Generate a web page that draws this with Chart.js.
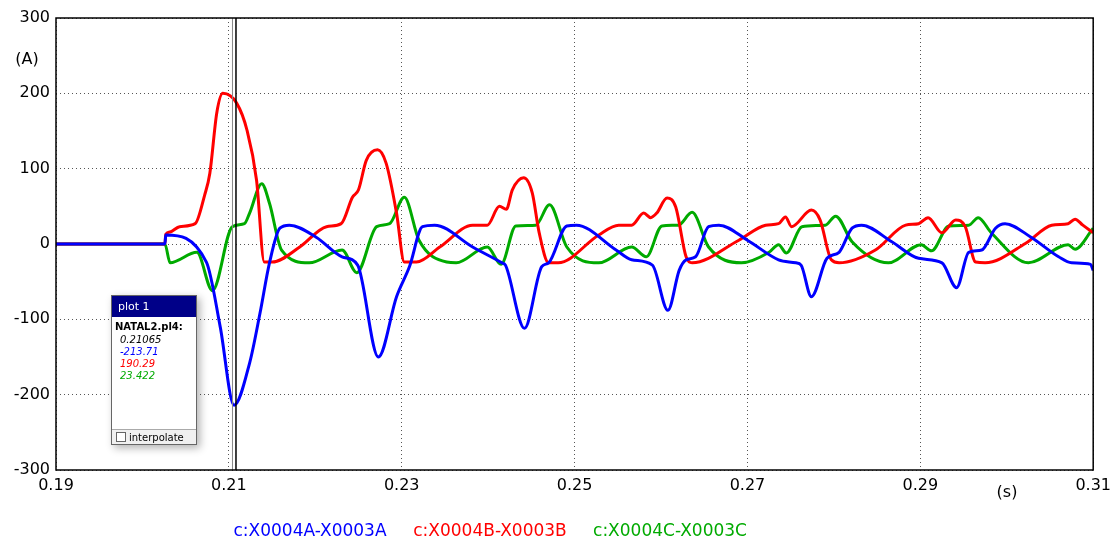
<!DOCTYPE html>
<html><head><meta charset="utf-8">
<script src="https://cdn.jsdelivr.net/npm/chart.js@4"></script>
<style>html,body{margin:0;padding:0;background:#fff}#w{width:1117px;height:544px}</style>
</head><body><div id="w"><canvas id="c"></canvas></div>
<script>
const seriesNames=["c:X0004A-X0003A","c:X0004B-X0003B","c:X0004C-X0003C"];
const xTicks=[0.19,0.21,0.23,0.25,0.27,0.29,0.31];
const yTicks=[-300,-200,-100,0,100,200,300];
const tA=[0.19,0.2026,0.2027,0.2074,0.2090,0.2106,0.2124,0.2136,0.2147,0.2159,0.2170,0.2201,0.2231,0.2249,0.2273,0.2294,0.2309,0.2324,0.2338,0.2382,0.2416,0.2420,0.2442,0.2462,0.2470,0.2491,0.2502,0.2548,0.2566,0.2590,0.2608,0.2621,0.2629,0.2640,0.2655,0.2667,0.2700,0.2736,0.2756,0.2762,0.2774,0.2792,0.2806,0.2821,0.2832,0.2867,0.2898,0.2925,0.2942,0.2956,0.2971,0.2987,0.2998,0.3028,0.3060,0.3075,0.3097,0.3100];
const vA=[0,0,12,-24,-110,-214,-158,-92,-25,21,25,9,-17,-28,-150,-70,-30,23,25,-4,-25,-28,-112,-30,-25,24,25,-8,-21,-28,-88,-35,-21,-17,23,25,5,-21,-25,-28,-70,-19,-11,21,25,3,-19,-25,-58,-11,-8,21,27,9,-17,-25,-27,-35];
const tB=[0.19,0.2026,0.2027,0.2032,0.2043,0.2061,0.2072,0.2078,0.2086,0.2093,0.2109,0.2121,0.2132,0.2141,0.2150,0.2182,0.2213,0.2230,0.2243,0.2250,0.2259,0.2272,0.2282,0.2294,0.2303,0.2317,0.2344,0.2382,0.2399,0.2413,0.2421,0.2428,0.2441,0.2451,0.2459,0.2470,0.2481,0.2528,0.2551,0.2566,0.2580,0.2588,0.2595,0.2607,0.2617,0.2629,0.2636,0.2690,0.2721,0.2736,0.2744,0.2751,0.2774,0.2784,0.2797,0.2806,0.2848,0.2883,0.2898,0.2909,0.2925,0.2941,0.2952,0.2964,0.2975,0.3022,0.3052,0.3071,0.3079,0.3088,0.3100];
const vB=[0,0,13,16,23,27,65,94,174,200,187,151,85,-24,-24,-4,23,27,62,72,111,125,107,41,-24,-24,-4,25,25,50,46,72,88,68,15,-25,-25,12,25,25,41,35,41,61,49,-17,-25,5,25,27,36,23,45,32,-21,-25,-8,25,27,35,15,32,23,-24,-25,1,25,27,33,25,15];
const tC=[0.19,0.2026,0.2032,0.2063,0.2081,0.2104,0.2118,0.2124,0.2138,0.2147,0.2161,0.2193,0.2231,0.2248,0.2271,0.2286,0.2303,0.2320,0.2352,0.2363,0.2399,0.2415,0.2432,0.2455,0.2471,0.2491,0.2528,0.2566,0.2583,0.2601,0.2620,0.2636,0.2655,0.2693,0.2725,0.2736,0.2745,0.2763,0.2790,0.2802,0.2821,0.2863,0.2901,0.2913,0.2933,0.2956,0.2967,0.2982,0.3025,0.3071,0.3079,0.3100];
const vC=[0,0,-25,-11,-62,23,27,41,80,54,-8,-25,-8,-38,23,27,62,5,-24,-25,-4,-27,24,25,52,-4,-25,-4,-17,24,25,42,-4,-25,-11,-1,-12,23,25,37,3,-25,-1,-9,24,25,35,15,-25,-1,-7,21];
const colors=["#0000ff","#ff0000","#00aa00"];
const mk=(t,v)=>t.map((x,i)=>({x:x,y:v[i]}));
const overlay={id:'ov',afterDraw(ch){
 const c=ch.ctx,xs=ch.scales.x,ys=ch.scales.y,a=ch.chartArea;
 c.save();
 const cx=xs.getPixelForValue(0.21065);
 c.strokeStyle='#888';c.lineWidth=1;
 c.beginPath();c.moveTo(cx-2,a.top);c.lineTo(cx-2,a.bottom);c.stroke();
 c.strokeStyle='#000';c.lineWidth=1.5;
 c.beginPath();c.moveTo(cx+1.5,a.top);c.lineTo(cx+1.5,a.bottom);c.stroke();
 c.strokeStyle='#000';c.lineWidth=1.5;c.strokeRect(a.left,a.top,a.right-a.left,a.bottom-a.top);
 c.fillStyle='#000';c.font='16px "DejaVu Sans"';c.textAlign='center';c.textBaseline='middle';
 c.fillText('(A)',27,60);c.fillText('(s)',1007,493);
 c.shadowColor='rgba(0,0,0,0.3)';c.shadowBlur=8;c.shadowOffsetX=3;c.shadowOffsetY=3;
 c.fillStyle='#fff';c.fillRect(111,295,86,150);
 c.shadowColor='transparent';
 c.fillStyle='#000088';c.fillRect(111,295,86,22);
 c.strokeStyle='#666';c.lineWidth=1;c.strokeRect(111.5,295.5,85,149);
 c.fillStyle='#fff';c.font='11px "DejaVu Sans"';c.textAlign='left';c.fillText('plot 1',118,307);
 c.fillStyle='#000';c.font='bold 10px "DejaVu Sans"';c.fillText('NATAL2.pl4:',115,327);
 c.font='italic 10px "DejaVu Sans"';
 c.fillStyle='#000';c.fillText('0.21065',120,340);
 c.fillStyle='#0000ff';c.fillText('-213.71',120,352);
 c.fillStyle='#ff0000';c.fillText('190.29',120,364);
 c.fillStyle='#00aa00';c.fillText('23.422',120,376);
 c.strokeStyle='#aaa';c.beginPath();c.moveTo(112,429.5);c.lineTo(196,429.5);c.stroke();
 c.fillStyle='#f0f0f0';c.fillRect(112,430,84,14);
 c.strokeStyle='#666';c.strokeRect(116.5,432.5,9,9);c.fillStyle='#fff';c.fillRect(117,433,8,8);
 c.fillStyle='#000';c.font='10px "DejaVu Sans"';c.fillText('interpolate',129,438);
 c.font='17px "DejaVu Sans"';c.textAlign='center';
 const lx=[310,490,670];
 seriesNames.forEach((n,i)=>{c.fillStyle=colors[i];c.fillText(n,lx[i],532);});
 c.restore();
}};
new Chart(document.getElementById('c'),{
 type:'line',
 data:{datasets:[
  {label:seriesNames[0],data:mk(tA,vA),borderColor:colors[0]},
  {label:seriesNames[1],data:mk(tB,vB),borderColor:colors[1]},
  {label:seriesNames[2],data:mk(tC,vC),borderColor:colors[2]}]},
 options:{responsive:true,maintainAspectRatio:false,animation:false,
  layout:{padding:{top:18,right:22,left:0,bottom:0}},
  elements:{point:{radius:0},line:{borderWidth:3,cubicInterpolationMode:'monotone'}},
  plugins:{legend:{display:false},tooltip:{enabled:false}},
  scales:{
   x:{type:'linear',min:0.19,max:0.31,
    afterBuildTicks(s){s.ticks=xTicks.map(v=>({value:v}));},
    afterFit(s){s.height=74;},
    ticks:{color:'#000',font:{family:'DejaVu Sans',size:16},padding:6,callback:v=>v.toFixed(2)},
    grid:{color:'#555',drawTicks:false},border:{display:false,dash:[1,3]}},
   y:{min:-300,max:300,
    afterBuildTicks(s){s.ticks=yTicks.map(v=>({value:v}));},
    afterFit(s){s.width=56;},
    ticks:{color:'#000',font:{family:'DejaVu Sans',size:16},padding:6},
    grid:{color:'#555',drawTicks:false},border:{display:false,dash:[1,3]}}
  }},
 plugins:[overlay]
});
</script></body></html>
